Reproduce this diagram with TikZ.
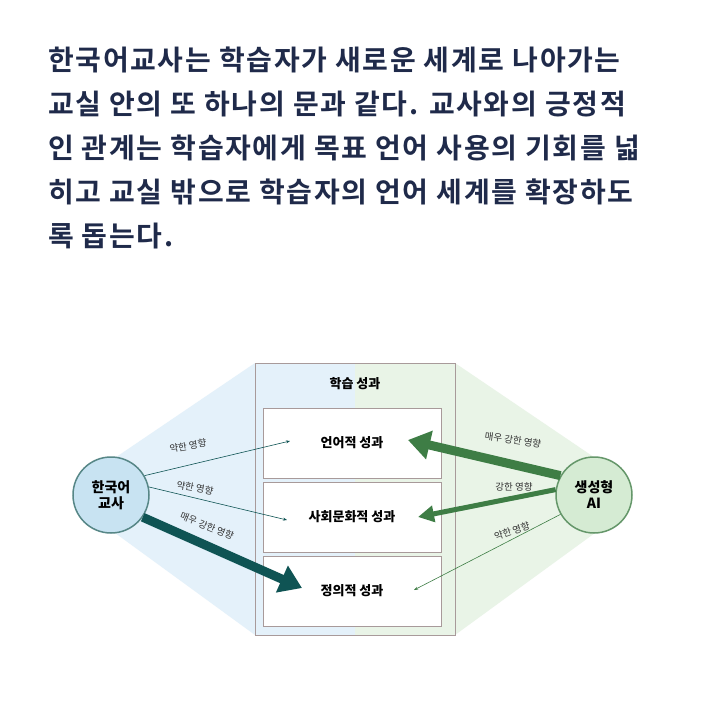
\documentclass[tikz,border=0pt]{standalone}
\usepackage{fontspec}
\setmainfont{Noto Sans CJK KR}
\newfontfamily\krbold[LetterSpace=6]{Noto Sans CJK KR Bold}
\usetikzlibrary{arrows.meta}
\definecolor{navy}{HTML}{1F2A4A}
\definecolor{tealdark}{HTML}{0F5454}
\definecolor{aigreen}{HTML}{3E7D45}
\definecolor{bgblue}{HTML}{E4F1FA}
\definecolor{bggreen}{HTML}{E9F4E7}
\definecolor{boxline}{HTML}{A89A9A}
\tikzset{
  leadline/.style={anchor=west, font=\krbold\fontsize{28}{28}\selectfont, text=navy, inner sep=0pt},
  outcome/.style={draw=boxline, fill=white, minimum width=178pt, minimum height=70pt, font=\fontsize{13}{13}\selectfont\bfseries},
  agent/.style={circle, line width=1.5pt, minimum size=76pt, align=center, font=\fontsize{14}{16}\selectfont\bfseries},
  effect/.style={font=\fontsize{9.5}{9.5}\selectfont, text=black!80, inner sep=0pt},
  weak/.style={-{Stealth[length=4pt]}, line width=0.6pt},
  verystrong/.style={line width=9pt, -{Triangle[length=22pt, width=28pt]}},
  strong/.style={line width=5pt, -{Triangle[length=16pt, width=16pt]}}
}
\begin{document}
\begin{tikzpicture}[x=1pt, y=-1pt]
    \useasboundingbox (0,0) rectangle (710,710);
    \fill[white] (0,0) rectangle (710,710);

    % lead text
    \node[leadline] (l1) at (48,60) {한국어교사는 학습자가 새로운 세계로 나아가는};
    \node[leadline] (l2) at (48,104) {교실 안의 또 하나의 문과 같다. 교사와의 긍정적};
    \node[leadline] (l3) at (48,148) {인 관계는 학습자에게 목표 언어 사용의 기회를 넓};
    \node[leadline] (l4) at (48,192) {히고 교실 밖으로 학습자의 언어 세계를 확장하도};
    \node[leadline] (l5) at (48,236) {록 돕는다.};

    % background
    \fill[bgblue] (355,363) -- (255,363) -- (100,468) -- (100,522) -- (255,635) -- (355,635) -- cycle;
    \fill[bggreen] (355,363) -- (455,363) -- (610,468) -- (610,522) -- (455,635) -- (355,635) -- cycle;
    \draw[boxline, line width=1pt] (255,363) rectangle (455,635);
    \node[font=\fontsize{13}{13}\selectfont\bfseries] (title) at (355,384) {학습 성과};

    % outcomes
    \node[outcome] (lang) at (352,443) {언어적 성과};
    \node[outcome] (soc) at (352,517) {사회문화적 성과};
    \node[outcome] (aff) at (352,591) {정의적 성과};

    % agents
    \node[agent, draw=tealdark!70, fill={rgb,255:red,200;green,227;blue,242}] (teacher) at (111,495) {한국어\\교사};
    \node[agent, draw=aigreen!80, fill={rgb,255:red,213;green,235;blue,211}] (ai) at (594,495) {생성형\\AI};

    \coordinate (t1) at (290,441);
    \coordinate (t2) at (287,520);
    \coordinate (t3) at (302,588);
    \coordinate (a1) at (408,440);
    \coordinate (a2) at (418,517);
    \coordinate (a3) at (414,590);

    % teacher
    \draw[weak, tealdark] (teacher.30) -- (t1);
    \draw[weak, tealdark] (teacher.12) -- (t2);
    \draw[verystrong, tealdark] (teacher.-35) -- (t3);
    \node[effect, rotate=10] at (188,446) {약한 영향};
    \node[effect, rotate=-10] at (195,488) {약한 영향};
    \node[effect, rotate=-22] at (207,526) {매우 강한 영향};

    % ai
    \draw[verystrong, aigreen] (ai.150) -- (a1);
    \draw[strong, aigreen] (ai.172) -- (a2);
    \draw[weak, aigreen] (ai.-150) -- (a3);
    \node[effect, rotate=-8] at (513,440) {매우 강한 영향};
    \node[effect] at (514,487) {강한 영향};
    \node[effect, rotate=20] at (512,531) {약한 영향};
\end{tikzpicture}
\end{document}
